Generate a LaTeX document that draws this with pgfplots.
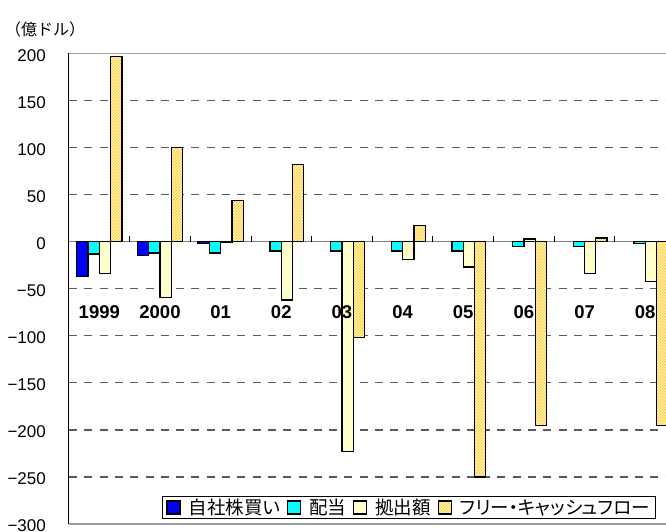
\documentclass[border=0pt]{standalone}
\usepackage{pgfplots}
\pgfplotsset{compat=1.18}
\usepackage{pgfplotstable}
\usepackage{fontspec}
\setmainfont{Liberation Sans}
\newfontfamily\jp{Noto Sans CJK JP}
\newfontfamily\jpp[RawFeature=+palt]{Noto Sans CJK JP}
\usetikzlibrary{patterns}

\definecolor{buyback}{HTML}{0000FF}
\definecolor{dividend}{HTML}{00FFFF}
\definecolor{contrib}{HTML}{FFFFCC}
\definecolor{fcfbase}{HTML}{FFF2B8}
\definecolor{fcfhatch}{HTML}{FFC41A}
\definecolor{gridgray}{HTML}{5A5A5A}
\definecolor{framegray}{HTML}{A0A0A0}
\definecolor{zerogray}{HTML}{808080}

% Years 1999..2008 are plotted at x = 0..9 (100 million dollars)
\pgfplotstableread{
x y
0 -37
1 -15
2 -2
}\buybacktab
\pgfplotstableread{
x y
0 -13
1 -12
2 -12
3 -10
4 -10
5 -10
6 -10
7 -5
8 -5
9 -2
}\dividendtab
\pgfplotstableread{
x y
0 -34
1 -59
2 -1
3 -62
4 -223
5 -19
6 -27
7 3
8 -34
9 -42
}\contribtab
\pgfplotstableread{
x y
0 197
1 100
2 44
3 82
4 -102
5 17
6 -250
7 -195
8 4
9 -195
}\fcftab

\begin{document}
\begin{tikzpicture}
\begin{axis}[
  name=ax, at={(0pt,0pt)}, anchor=south west,
  scale only axis, width=597pt, height=470.5pt,
  xmin=-0.5, xmax=9.343, ymin=-300, ymax=200,
  ybar=0pt, bar width=0.186,
  axis line style={draw=none},
  xtick=\empty,
  ytick={-300,-250,...,200},
  yticklabels={−300,−250,−200,−150,−100,−50,0,50,100,150,200},
  major tick length=0pt,
  yticklabel style={font=\fontsize{17}{17}\selectfont, anchor=east,
    inner sep=0pt, xshift=-23pt, yshift=-2pt},
  ymajorgrids,
  grid style={gridgray, line width=1.3pt, dash pattern=on 8pt off 7.3pt},
  legend columns=4,
  legend style={at={(0.1558,0.0106)}, anchor=south west,
    draw=black, line width=0.8pt, fill=white,
    font=\jpp\fontsize{18.5}{18.5}\selectfont,
    inner xsep=4pt, inner ysep=1.5pt,
    nodes={inner xsep=2pt, inner ysep=1pt},
    /tikz/every even column/.append style={column sep=5pt},
    /tikz/every odd column/.append style={column sep=6pt}},
  legend image code/.code={\draw[#1, line width=1.2pt] (0pt,-6.5pt) rectangle (13pt,6.5pt);},
  clip=true,
]
% zero line with group separators
\draw[zerogray, line width=1.4pt] (axis cs:-0.5,0) -- (axis cs:9.343,0);
\pgfplotsinvokeforeach{0.5,1.5,2.5,3.5,4.5,5.5,6.5,7.5,8.5}{
  \draw[black, line width=0.9pt] (axis cs:#1,0) -- ++(0pt,6pt);
}

\addplot[fill=buyback, draw=black, line width=1.3pt] table {\buybacktab};
\addplot[fill=dividend, draw=black, line width=1.3pt] table {\dividendtab};
\addplot[fill=contrib, draw=black, line width=1.3pt] table {\contribtab};
\addplot[fill=fcfbase, draw=black, line width=1.3pt,
  postaction={pattern=north east lines, pattern color=fcfhatch}] table {\fcftab};

\legend{自社株買い, 配当, 拠出額, フリー・キャッシュフロー}

% year labels
\begin{scope}[every node/.style={font=\bfseries\fontsize{18.5}{18.5}\selectfont, inner sep=0pt}]
\node at (axis cs:0,-74.7) {1999};
\node at (axis cs:1,-74.7) {2000};
\node at (axis cs:2,-74.7) {01};
\node at (axis cs:3,-74.7) {02};
\node at (axis cs:4,-74.7) {03};
\node at (axis cs:5,-74.7) {04};
\node at (axis cs:6,-74.7) {05};
\node at (axis cs:7,-74.7) {06};
\node at (axis cs:8,-74.7) {07};
\node at (axis cs:9,-74.7) {08};
\end{scope}
\end{axis}

% frame
\draw[black, line width=1pt] (0pt,0pt) -- (0pt,470.5pt);
\draw[framegray, line width=1.5pt] (0pt,470.5pt) -- (600pt,470.5pt);
\draw[framegray, line width=1.5pt] (0pt,0pt) -- (600pt,0pt);

% unit
\node[anchor=west, inner sep=0pt, font=\jp\fontsize{16}{16}\selectfont] at (-64pt,495pt) {（億ドル）};

\pgfresetboundingbox
\useasboundingbox (-69pt,-8pt) rectangle (597pt,524pt);
\end{tikzpicture}
\end{document}
